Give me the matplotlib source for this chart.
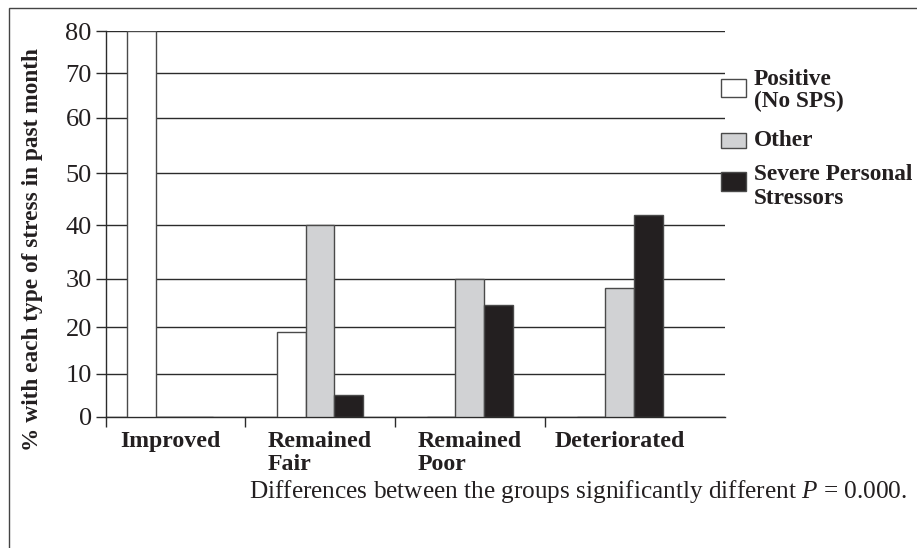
import numpy as np
import matplotlib
matplotlib.use("Agg")
import matplotlib.pyplot as plt
from matplotlib.patches import Rectangle

plt.rcParams['font.family'] = ['Liberation Serif', 'DejaVu Serif']
plt.rcParams['mathtext.fontset'] = 'custom'
plt.rcParams['mathtext.rm'] = 'Liberation Serif'
plt.rcParams['mathtext.it'] = 'Liberation Serif:italic'
plt.rcParams['text.color'] = '#231f20'
plt.rcParams['xtick.color'] = '#2b2b2b'
plt.rcParams['ytick.color'] = '#2b2b2b'
plt.rcParams['xtick.labelcolor'] = '#231f20'
plt.rcParams['ytick.labelcolor'] = '#231f20'

# ---- data ----
categories = ["Improved", "Remained\nFair", "Remained\nPoor", "Deteriorated"]
series_names = ["Positive\n(No SPS)", "Other", "Severe Personal\nStressors"]
positive = [80, 19, 0, 0]
other = [0, 40, 30, 28]
severe = [0, 5, 24.5, 42]
y_ticks = [0, 10, 20, 30, 40, 50, 60, 70, 80]
footnote = "Differences between the groups significantly different $\\mathit{P}$ = 0.000."
ylabel = "% with each type of stress in past month"

# The original's value axis is not evenly spaced; reproduce its tick spacing
tick_px = np.array([0.0, 43.0, 89.7, 138.0, 191.4, 243.4, 299.0, 343.4, 385.7])
tick_val = np.array(y_ticks, dtype=float)

def fwd(v):
    v = np.asarray(v, dtype=float)
    out = np.interp(v, tick_val, tick_px)
    lo = v < tick_val[0]
    hi = v > tick_val[-1]
    out = np.where(lo, tick_px[0] + (v - tick_val[0]) * 4.3, out)
    out = np.where(hi, tick_px[-1] + (v - tick_val[-1]) * 4.23, out)
    return out

def inv(p):
    p = np.asarray(p, dtype=float)
    out = np.interp(p, tick_px, tick_val)
    lo = p < tick_px[0]
    hi = p > tick_px[-1]
    out = np.where(lo, tick_val[0] + (p - tick_px[0]) / 4.3, out)
    out = np.where(hi, tick_val[-1] + (p - tick_px[-1]) / 4.23, out)
    return out

W, H = 917, 548
fig = plt.figure(figsize=(W / 100, H / 100), dpi=100)
ax = fig.add_axes([106 / W, 1 - 416.7 / H, (725 - 106) / W, (416.7 - 31) / H])
ax.set_yscale('function', functions=(fwd, inv))

x = np.arange(len(categories))
bw = 0.1916
edge = '#4a4a4a'
colors = ['#ffffff', '#d1d2d4', '#231f20']
for i, (vals, c) in enumerate(zip([positive, other, severe], colors)):
    ax.bar(x + (i - 1) * bw, vals, width=bw, color=c, edgecolor=edge,
           linewidth=1.0, zorder=3, label=series_names[i])

ax.set_xlim(-0.427, 3.703)
ax.set_ylim(0, 80)
ax.set_yticks(y_ticks)
ax.set_yticklabels([str(t) for t in y_ticks], fontsize=19)
ax.yaxis.grid(True, color='#2b2b2b', linewidth=1.0, zorder=0)
ax.set_axisbelow(True)

for s in ['top', 'right']:
    ax.spines[s].set_visible(False)
for s in ['left', 'bottom']:
    ax.spines[s].set_color('#2b2b2b')
    ax.spines[s].set_linewidth(1.0)

ax.tick_params(axis='y', direction='out', length=7.2, width=1.0, pad=3)
ax.set_xticks(x)
ax.set_xticklabels(categories, fontsize=17.2, fontweight='bold', multialignment='left',
                   linespacing=1.12)
ax.tick_params(axis='x', length=0, pad=10)
ax.set_xticks([-0.427, 0.5, 1.5, 2.5], minor=True)
ax.tick_params(axis='x', which='minor', direction='out', length=7.2, width=1.0)

fig.text(33 / W, 1 - 250 / H, ylabel, rotation=90, ha='center', va='center',
         fontsize=16.8, fontweight='bold')

fig.text(907 / W, 1 - 498 / H, footnote, ha='right', va='baseline', fontsize=18.2)

# ---- legend (drawn by hand to follow the original's spacing) ----
patch_boxes = [(79.3, 97.3), (133.0, 147.7), (171.7, 190.7)]   # top, bottom in px
line_baselines = [(85.0, 106.7), (145.7,), (180.0, 204.0)]
for name, c, (top, bot), bases in zip(series_names, colors, patch_boxes, line_baselines):
    fig.add_artist(Rectangle((720.7 / W, 1 - bot / H), 25 / W, (bot - top) / H,
                             transform=fig.transFigure, facecolor=c, edgecolor=edge,
                             linewidth=1.0))
    for line, b in zip(name.split("\n"), bases):
        fig.text(754 / W, 1 - b / H, line, ha='left', va='baseline',
                 fontsize=16.8, fontweight='bold')

fig.add_artist(Rectangle((9 / W, -0.2), 1.2, 1.2 - 7.5 / H,
                         transform=fig.transFigure, fill=False, edgecolor='#444444',
                         linewidth=1.0, clip_on=False))

fig.savefig("out.png", dpi=100)
